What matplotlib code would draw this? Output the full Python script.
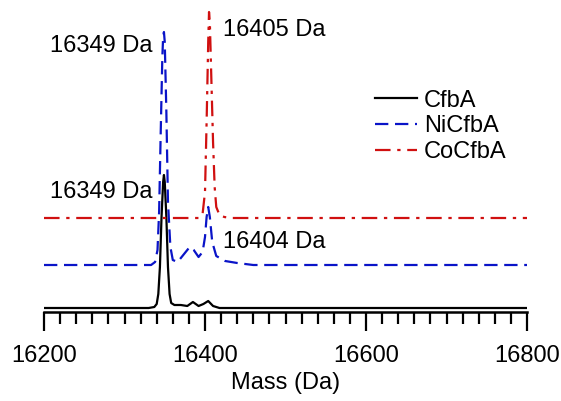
import matplotlib
matplotlib.use('Agg')
import matplotlib.pyplot as plt
from matplotlib.ticker import MultipleLocator

plt.rcParams['font.family'] = ['Liberation Sans', 'DejaVu Sans']

# deconvoluted spectra, y in stacked display units
cfba_mass = [16200, 16330, 16337, 16340, 16342, 16344, 16346, 16348, 16349, 16350, 16352,
             16354, 16356, 16358, 16362, 16370, 16378, 16385, 16392, 16398, 16404,
             16410, 16418, 16800]
cfba_int = [4, 4, 5, 8, 18, 45, 95, 130, 137, 130, 95,
            45, 18, 9, 7, 7, 6, 10, 6, 8, 11,
            6, 4, 4]

ni_mass = [16200, 16333, 16338, 16341, 16343, 16345, 16347, 16348, 16349, 16350, 16352,
           16354, 16357, 16360, 16366, 16374, 16381, 16386, 16392, 16397, 16400, 16402,
           16404, 16406, 16409, 16414, 16425, 16440, 16460, 16800]
ni_int = [47, 47, 50, 62, 100, 180, 255, 275, 280, 270, 200,
          110, 65, 52, 50, 58, 65, 62, 55, 60, 75, 95,
          105, 95, 70, 56, 51, 49, 47, 47]

co_mass = [16200, 16392, 16397, 16400, 16402, 16404, 16405, 16406, 16408, 16410, 16412,
           16414, 16418, 16424, 16432, 16800]
co_int = [94, 94, 98, 120, 190, 270, 300, 290, 230, 170, 125,
          105, 97, 95, 94, 94]

labels = [('16349 Da', 16208, 266), ('16405 Da', 16422, 282),
          ('16349 Da', 16208, 120), ('16404 Da', 16422, 70)]

fig = plt.figure(figsize=(5.61, 4.01), dpi=100)
ax = fig.add_axes([44 / 561, 89 / 401, 483 / 561, 302 / 401])

ax.plot(cfba_mass, cfba_int, color='black', lw=1.6, label='CfbA')
ax.plot(ni_mass, ni_int, color='#0a14c8', lw=1.6, dashes=(6, 3), label='NiCfbA')
ax.plot(co_mass, co_int, color='#d01010', lw=1.6, dashes=(7, 3, 1.5, 3), label='CoCfbA')

for txt, x, y in labels:
    ax.text(x, y, txt, fontsize=17, va='center', ha='left')

ax.set_xlim(16200, 16800)
ax.set_ylim(0, 302)
ax.xaxis.set_major_locator(MultipleLocator(200))
ax.xaxis.set_minor_locator(MultipleLocator(20))
ax.tick_params(axis='x', which='major', length=14, width=1.6, labelsize=17, pad=10)
ax.tick_params(axis='x', which='minor', length=8.5, width=1.6)
ax.set_yticks([])
for s in ['left', 'right', 'top']:
    ax.spines[s].set_visible(False)
ax.spines['bottom'].set_linewidth(1.8)
ax.set_xlabel('Mass (Da)', fontsize=17, labelpad=3)

ax.legend(loc='upper left', bbox_to_anchor=(0.66, 0.775), frameon=False, fontsize=17,
          handlelength=1.8, handletextpad=0.3, labelspacing=0.15, borderpad=0)

fig.savefig('out.png', dpi=100)
